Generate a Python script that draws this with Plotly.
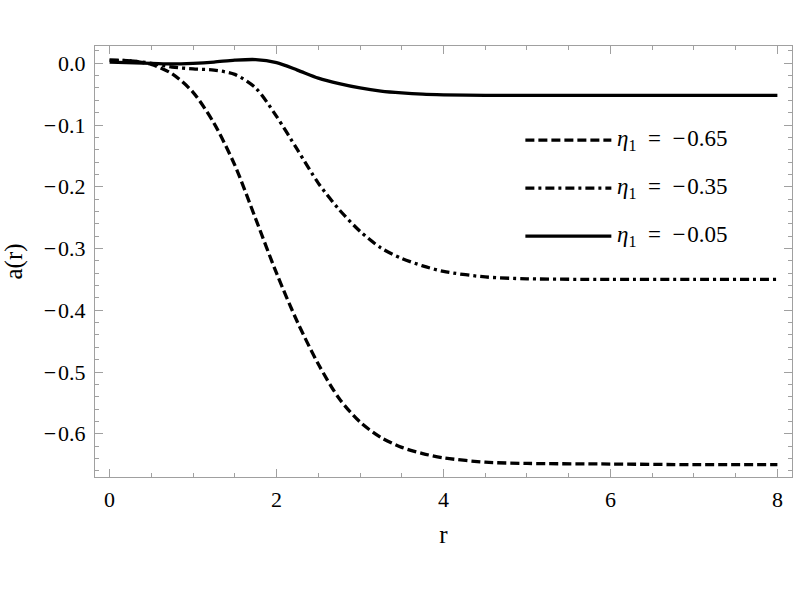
import plotly.graph_objects as go

# ---- data ----
r_dash = [0, 0.25, 0.5, 0.75, 1.0, 1.25, 1.5, 1.75, 2.0, 2.25, 2.5, 2.75, 3.0, 3.25, 3.5, 3.75, 4.0, 4.5, 5.0, 6.0, 7.0, 8.0]
a_dash = [0.005, 0.004, -0.002, -0.017, -0.047, -0.097, -0.165, -0.252, -0.340, -0.419, -0.487, -0.543, -0.581, -0.606, -0.622, -0.632, -0.639, -0.646, -0.648, -0.649, -0.650, -0.650]

r_dashdot = [0, 0.25, 0.5, 0.75, 1.0, 1.25, 1.5, 1.75, 2.0, 2.25, 2.5, 2.75, 3.0, 3.25, 3.5, 3.75, 4.0, 4.5, 5.0, 6.0, 7.0, 8.0]
a_dashdot = [0.005, 0.004, 0.000, -0.006, -0.009, -0.011, -0.018, -0.040, -0.086, -0.140, -0.194, -0.237, -0.272, -0.299, -0.316, -0.328, -0.337, -0.346, -0.349, -0.350, -0.350, -0.350]

r_solid = [0, 0.5, 0.75, 1.0, 1.25, 1.5, 1.75, 2.0, 2.25, 2.5, 2.75, 3.0, 3.25, 3.5, 3.75, 4.0, 4.5, 5.0, 6.0, 7.0, 8.0]
a_solid = [0.002, 0.000, -0.001, 0.000, 0.002, 0.005, 0.006, 0.001, -0.011, -0.024, -0.033, -0.040, -0.045, -0.048, -0.050, -0.051, -0.052, -0.052, -0.052, -0.052, -0.052]

series_names = ["<i>η</i><sub>1</sub>  =  −\u200a0.65",
                "<i>η</i><sub>1</sub>  =  −\u200a0.35",
                "<i>η</i><sub>1</sub>  =  −\u200a0.05"]

x_tickvals = [0, 2, 4, 6, 8]
x_ticktext = ["0", "2", "4", "6", "8"]
y_tickvals = [0.0, -0.1, -0.2, -0.3, -0.4, -0.5, -0.6]
y_ticktext = ["0.0", "−\u200a0.1", "−\u200a0.2", "−\u200a0.3", "−\u200a0.4", "−\u200a0.5", "−\u200a0.6"]

FONT = "Liberation Serif, Times New Roman, serif"
DASH = "9px,4px"
DASHDOT = "9px,4px,3px,4px"
LW = 3.3
FRAME = "#a0a0a0"

fig = go.Figure()
styles = [DASH, DASHDOT, "solid"]
for r, a, name, d in [(r_dash, a_dash, series_names[0], DASH),
                      (r_dashdot, a_dashdot, series_names[1], DASHDOT),
                      (r_solid, a_solid, series_names[2], "solid")]:
    fig.add_trace(go.Scatter(x=r, y=a, mode="lines", name=name, showlegend=False,
                             line=dict(color="black", width=LW, dash=d, shape="spline", smoothing=0.8)))

axis_common = dict(
    showgrid=False, zeroline=False, showline=True, linecolor=FRAME, linewidth=1,
    mirror="ticks", ticks="inside", tickcolor=FRAME, tickwidth=1, ticklen=8,
    tickfont=dict(family=FONT, size=22, color="black"),
)
fig.update_xaxes(range=[-0.175, 8.175], tickmode="array", tickvals=x_tickvals, ticktext=x_ticktext,
                 minor=dict(tickmode="linear", tick0=0, dtick=0.5, ticks="inside", ticklen=4, tickcolor=FRAME),
                 title=dict(text="r", font=dict(family=FONT, size=25, color="black"), standoff=14),
                 ticklabelstandoff=3, **axis_common)
fig.update_yaxes(range=[-0.670, 0.028], tickmode="array", tickvals=y_tickvals, ticktext=y_ticktext,
                 minor=dict(tickmode="linear", tick0=0, dtick=0.02, ticks="inside", ticklen=4, tickcolor=FRAME),
                 title=dict(text="a(r)", font=dict(family=FONT, size=25, color="black"), standoff=18),
                 ticklabelstandoff=4, **axis_common)

# legend drawn manually (long line samples as in the reference)
leg_y = [140, 188, 236]
for i, (name, d) in enumerate(zip(series_names, styles)):
    yp = 1 - (leg_y[i] - 46) / (476.7 - 46)
    fig.add_shape(type="line", xref="paper", yref="paper",
                  x0=(525 - 94.5) / 697.2, x1=(611 - 94.5) / 697.2, y0=yp, y1=yp,
                  line=dict(color="black", width=LW, dash=d))
    fig.add_annotation(text=name, xref="paper", yref="paper", x=(615 - 94.5) / 697.2, y=yp,
                       xanchor="left", yanchor="middle", showarrow=False,
                       font=dict(family=FONT, size=23, color="black"))

fig.update_layout(width=800, height=600, plot_bgcolor="white", paper_bgcolor="white",
                  margin=dict(l=94.5, r=8.3, t=46, b=123.3, autoexpand=False))
fig.write_html("out.html")
